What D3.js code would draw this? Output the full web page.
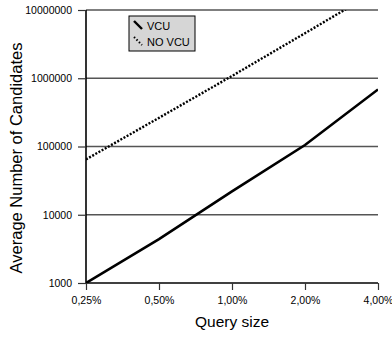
<!DOCTYPE html>
<html>
<head>
<meta charset="utf-8">
<script src="https://cdn.jsdelivr.net/npm/d3@7"></script>
<style>
  body { margin: 0; background: #fff; }
  svg, svg text { font-family: "Liberation Sans", Arial, sans-serif; }
</style>
</head>
<body>
<div id="chart"></div>
<script>
// chart data
const querySizes = ["0,25%", "0,50%", "1,00%", "2,00%", "4,00%"];
const vcu = [1000, 4400, 22000, 105000, 685000];
const noVcu = [64700, 263000, 1080000, 4570000, 19500000];
const yTicks = [1000, 10000, 100000, 1000000, 10000000];

const FONT = "'Liberation Sans', Arial, sans-serif";
const width = 392, height = 343;
const margin = {left: 86, right: 14, top: 10, bottom: 60};

const svg = d3.select("#chart")
    .append("svg")
    .attr("width", width)
    .attr("height", height);

let x = d3.scalePoint()
    .domain(querySizes)
    .range([margin.left, width - margin.right]);

let y = d3.scaleLog()
    .domain([1000, 10000000])
    .range([height - margin.bottom, margin.top]);

// horizontal grid lines
svg.append("g")
    .selectAll("line")
    .data(yTicks.slice(1))
    .enter()
    .append("line")
    .attr("x1", margin.left)
    .attr("x2", width - margin.right)
    .attr("y1", d => y(d))
    .attr("y2", d => y(d))
    .attr("stroke", "#555")
    .attr("stroke-width", 1.3);

// clip the lines to the plot area
svg.append("clipPath")
    .attr("id", "plot")
    .append("rect")
    .attr("x", margin.left)
    .attr("y", margin.top)
    .attr("width", width - margin.left - margin.right)
    .attr("height", height - margin.top - margin.bottom);

let line = d3.line()
    .x((d, i) => x(querySizes[i]))
    .y(d => y(d));

svg.append("path")
    .datum(noVcu)
    .attr("clip-path", "url(#plot)")
    .attr("fill", "none")
    .attr("stroke", "#000")
    .attr("stroke-width", 2.4)
    .attr("stroke-dasharray", "2,1.6")
    .attr("d", line);

svg.append("path")
    .datum(vcu)
    .attr("clip-path", "url(#plot)")
    .attr("fill", "none")
    .attr("stroke", "#000")
    .attr("stroke-width", 2.6)
    .attr("d", line);

// axes
let yAxis = svg.append("g")
    .attr("transform", `translate(${margin.left},0)`)
    .call(d3.axisLeft(y).tickValues(yTicks).tickFormat(d3.format("d")).tickSize(8).tickPadding(6));

let xAxis = svg.append("g")
    .attr("transform", `translate(0,${height - margin.bottom})`)
    .call(d3.axisBottom(x).tickSize(7).tickPadding(7));

[yAxis, xAxis].forEach(a => {
    a.attr("font-family", FONT).attr("font-size", 10.5);
    a.select(".domain").attr("stroke", "#000").attr("stroke-width", 1.6);
    a.selectAll(".tick line").attr("stroke", "#333").attr("stroke-width", 1.2);
    a.selectAll("text").attr("fill", "#000");
});
yAxis.select(".domain").attr("d", `M0,${y(1000)}V${y(10000000)}`);
xAxis.select(".domain").attr("d", `M${margin.left},0H${width - margin.right}`);

// axis titles
svg.append("text")
    .attr("transform", `translate(${(margin.left + width - margin.right) / 2},${height - 16})`)
    .attr("font-family", FONT)
    .style("text-anchor", "middle")
    .style("font-size", "15.5px")
    .text("Query size");

svg.append("text")
    .attr("transform", `translate(22,158) rotate(-90)`)
    .attr("font-family", FONT)
    .style("text-anchor", "middle")
    .style("font-size", "16.5px")
    .text("Average Number of Candidates");

// legend
let legend = svg.append("g").attr("transform", "translate(129,16)")
    .attr("font-family", FONT);
legend.append("rect")
    .attr("width", 66)
    .attr("height", 35)
    .attr("fill", "#d6d6d6")
    .attr("stroke", "#000")
    .attr("stroke-width", 1);
legend.append("line")
    .attr("x1", 5).attr("y1", 5).attr("x2", 13).attr("y2", 13)
    .attr("stroke", "#000").attr("stroke-width", 2.4);
legend.append("line")
    .attr("x1", 5).attr("y1", 21).attr("x2", 13).attr("y2", 29)
    .attr("stroke", "#000").attr("stroke-width", 2).attr("stroke-dasharray", "1.5,2");
legend.append("text").attr("x", 18).attr("y", 14).style("font-size", "11px").text("VCU");
legend.append("text").attr("x", 18).attr("y", 30).style("font-size", "11px").text("NO VCU");
</script>
</body>
</html>
